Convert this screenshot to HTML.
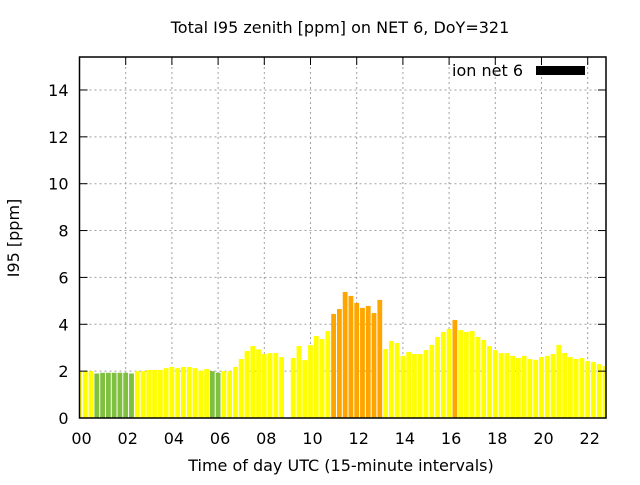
<!DOCTYPE html>
<html><head><meta charset="utf-8"><style>
body{margin:0;background:#fff;}
svg text{font-family:"DejaVu Sans","Liberation Sans",sans-serif;}
</style></head><body>
<svg id="chart" width="640" height="480" xmlns="http://www.w3.org/2000/svg">
<rect width="640" height="480" fill="#fff"/>
<text x="340" y="33" font-size="16" text-anchor="middle">Total I95 zenith [ppm] on NET 6, DoY=321</text>
<text transform="translate(19,238) rotate(-90)" font-size="16" text-anchor="middle">I95 [ppm]</text>
<text x="341" y="471" font-size="16" text-anchor="middle">Time of day UTC (15-minute intervals)</text>
<g id="grid"></g><g id="bars"></g><g id="axes"></g>
<g>
<text x="523" y="76" font-size="16" text-anchor="end">ion net 6</text>
<rect x="536" y="66" width="49" height="9" fill="#000"/>
</g>
</svg>
<script>
const values=[2.0,2.0,2.0,1.9,1.93,1.93,1.93,1.93,1.93,1.9,2.0,2.0,2.05,2.05,2.05,2.13,2.18,2.13,2.18,2.18,2.13,2.02,2.09,2.0,1.93,2.0,2.0,2.18,2.52,2.86,3.07,2.93,2.73,2.77,2.77,2.6,null,2.56,3.07,2.47,3.11,3.5,3.37,3.71,4.44,4.65,5.38,5.21,4.91,4.7,4.78,4.48,5.04,2.94,3.29,3.2,2.65,2.82,2.73,2.73,2.9,3.12,3.46,3.67,3.8,4.18,3.75,3.67,3.71,3.46,3.33,3.07,2.9,2.77,2.77,2.65,2.56,2.65,2.52,2.48,2.6,2.65,2.73,3.12,2.77,2.6,2.52,2.56,2.43,2.39,2.3,2.22];
const levels="yyyggggggg" + "yyyyyyyyyyyyy" + "ggyyyyyyy" + "yyyyyyyyyyyy" + "ooooooooo" + "yyyyyyyyyyyy" + "oyyyyyyyyyyyyyyyyyyyyyyyyyy";
const xTicks=["00","02","04","06","08","10","12","14","16","18","20","22"];
const yTicks=[0,2,4,6,8,10,12,14];
const NS="http://www.w3.org/2000/svg";
const L=79.5,R=606,T=57,B=418;
const xs=t=>79.5+t*23.1, ys=v=>418-v*23.43;
const colors={y:"#ffff00",g:"#80c040",o:"#ffa500"};
function mk(tag,attrs,parent){const e=document.createElementNS(NS,tag);for(const k in attrs)e.setAttribute(k,attrs[k]);document.getElementById(parent).appendChild(e);return e;}
yTicks.forEach((v,i)=>{
 if(v>0){const g=mk("line",{x1:L,x2:R,y1:ys(v),y2:ys(v),stroke:"#a0a0a0","stroke-dasharray":"2,3"},"grid");
 
 }
 const tx=mk("text",{x:L-11,y:ys(v)+6,"font-size":16,"text-anchor":"end"},"axes");tx.textContent=v;
 
 
 mk("line",{x1:L,x2:L+8,y1:ys(v),y2:ys(v),stroke:"#000"},"axes");
 mk("line",{x1:R-8,x2:R,y1:ys(v),y2:ys(v),stroke:"#000"},"axes");
});
xTicks.forEach((lab,i)=>{
 const x=xs(i*2);
 if(i>0){const g=mk("line",{x1:x,x2:x,y1:T,y2:B,stroke:"#a0a0a0","stroke-dasharray":"2,3"},"grid");
 
 }
 const tx=mk("text",{x:x+2,y:444,"font-size":16,"text-anchor":"middle"},"axes");tx.textContent=lab;
 
 
 mk("line",{x1:x,x2:x,y1:T,y2:T+8,stroke:"#000"},"axes");
});
values.forEach((v,i)=>{
 if(v==null)return;
 const c=xs(i*0.25);let x0=c-2.4,x1=c+2.4;
 x0=Math.max(x0,L);x1=Math.min(x1,R);
 const r=mk("rect",{x:x0,y:ys(v),width:x1-x0,height:B-ys(v),fill:colors[levels[i]]},"bars");
 
 
});
const f=mk("rect",{x:L,y:T,width:R-L,height:B-T,fill:"none",stroke:"#000","stroke-width":1.5},"axes");


</script>
</body></html>
